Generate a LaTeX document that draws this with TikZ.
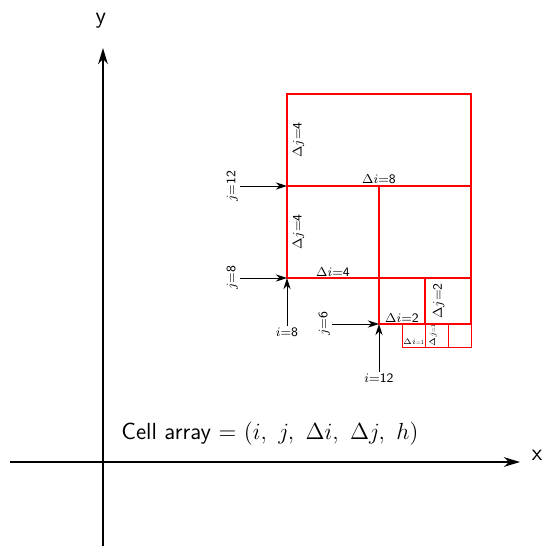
\documentclass[tikz,border=0pt]{standalone}
\usepackage{amsmath,amssymb}
\usetikzlibrary{arrows.meta}
\tikzset{
  cellbox/.style={draw=red,line width=1.1pt},
  smallcell/.style={draw=red,line width=0.6pt},
  ptr/.style={-{Stealth[length=7pt,width=4.5pt]},line width=0.55pt},
  axis/.style={-{Stealth[length=10pt,width=6pt]},line width=0.9pt},
  tag/.style={font=\sffamily\footnotesize,inner sep=1pt},
  tinytag/.style={font=\sffamily\fontsize{3.5}{4}\selectfont,inner sep=0.5pt},
}
\begin{document}
\begin{tikzpicture}[x=0.5cm,y=0.5cm,font=\sffamily]
\useasboundingbox (-4.478,-3.652) rectangle (19.087,20.087);
% axes
\coordinate (xs) at (-4.04,0);
\coordinate (xe) at (18.13,0);
\coordinate (ys) at (0,-3.65);
\coordinate (ye) at (0,18.0);
\draw[axis] (xs) -- (xe);
\draw[axis] (ys) -- (ye);
\node[font=\sffamily\Large] (xlab) at (18.87,0.3) {x};
\node[font=\sffamily\Large] (ylab) at (-0.09,19.2) {y};
% cells (i/j/di/dj)
\foreach \i/\j/\di/\dj in {8/12/8/4,8/8/4/4,12/8/4/4,12/6/2/2,14/6/2/2}{
  \draw[cellbox] (\i,\j) rectangle ++(\di,\dj);
}
\foreach \i in {13,14,15}{
  \draw[smallcell] (\i,5) rectangle ++(1,1);
}
\coordinate (c8-12) at (8,12);
\coordinate (c8-8) at (8,8);
\coordinate (c12-6) at (12,6);
% cell labels
\node[tag,rotate=90] (dj4a) at (8.5,14) {$\Delta j$=4};
\node[tag,anchor=south] (di8) at (12,12) {$\Delta i$=8};
\node[tag,rotate=90] (dj4b) at (8.5,10) {$\Delta j$=4};
\node[tag,anchor=south] (di4) at (10,8) {$\Delta i$=4};
\node[tag,rotate=90] (dj2) at (14.6,7) {$\Delta j$=2};
\node[tag,anchor=south] (di2) at (13,6) {$\Delta i$=2};
\node[tinytag,anchor=south] (di1) at (13.5,5.05) {$\Delta i$=1};
\node[tinytag,rotate=90] (dj1) at (14.35,5.5) {$\Delta j$=1};
% index pointers
\node[tag,rotate=90,anchor=south] (j12) at (5.95,12) {$j$=12};
\node[tag,rotate=90,anchor=south] (j8) at (5.95,8) {$j$=8};
\node[tag,anchor=north] (i8) at (8,5.9) {$i$=8};
\node[tag,rotate=90,anchor=south] (j6) at (9.95,6) {$j$=6};
\node[tag,anchor=north] (i12) at (12,3.9) {$i$=12};
\draw[ptr] (j12) -- (c8-12);
\draw[ptr] (j8) -- (c8-8);
\draw[ptr] (i8) -- (c8-8);
\draw[ptr] (j6) -- (c12-6);
\draw[ptr] (i12) -- (c12-6);
\node[font=\sffamily\Large] (caption) at (7.26,1.22) {Cell array = $(i,\ j,\ \Delta i,\ \Delta j,\ h)$};
\end{tikzpicture}
\end{document}
